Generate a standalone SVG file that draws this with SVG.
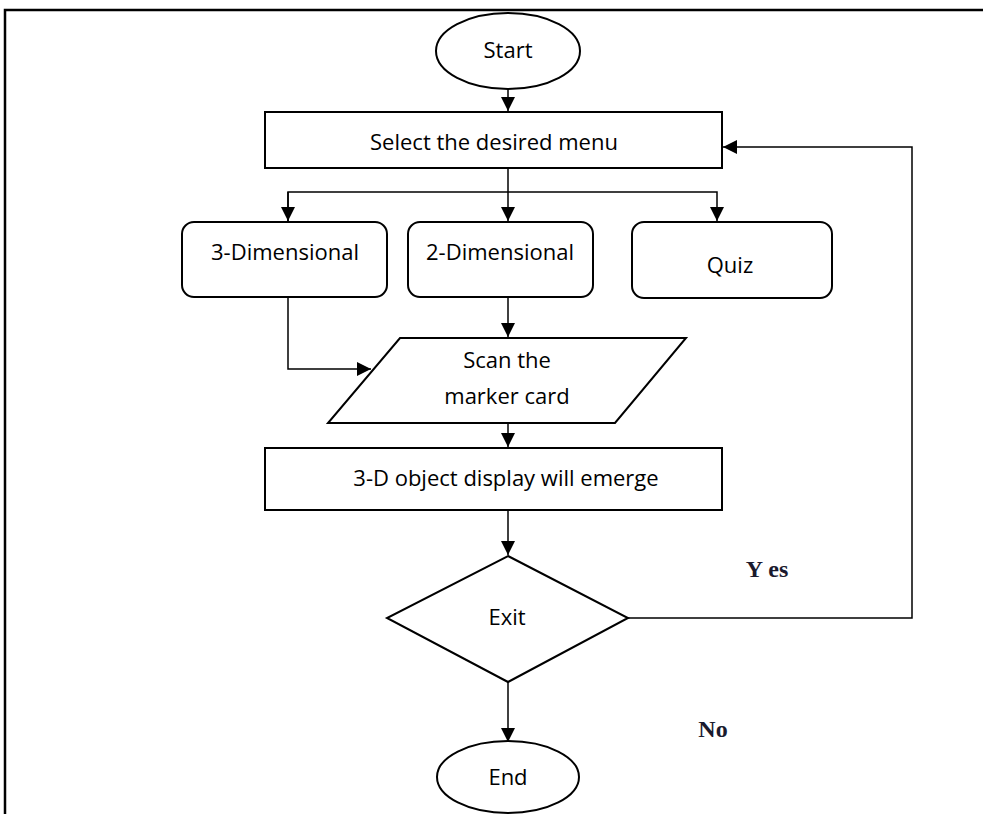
<svg xmlns="http://www.w3.org/2000/svg" width="983" height="814" viewBox="0 0 983 814">
<style>
.s{fill:#fff;stroke:#000;stroke-width:2}
.t{font-family:"Open Sans","Liberation Sans",sans-serif;font-size:22px;fill:#000;text-anchor:middle}
.l{font-family:"Liberation Serif",serif;font-size:24px;font-weight:bold;fill:#1a1a2e;text-anchor:middle}
.c{fill:none;stroke:#000;stroke-width:1.5}
</style>
<defs>
<marker id="b" viewBox="0 0 14 14" refX="14" refY="7" markerWidth="14" markerHeight="14" markerUnits="userSpaceOnUse" orient="auto">
<path d="M0,0 L14,7 L0,14 z" fill="#000"/>
</marker>
</defs>
<rect width="983" height="814" fill="#fff"/>
<path d="M5,814 V10 H983" fill="none" stroke="#000" stroke-width="2.5"/>
<g id="connectors">
<path class="c" d="M508,80 V111" marker-end="url(#b)"/>
<path class="c" d="M508,168 V221" marker-end="url(#b)"/>
<path class="c" d="M288,221 V192 H717 V221" marker-end="url(#b)"/>
<path class="c" d="M288,192 V221" marker-end="url(#b)"/>
<path class="c" d="M508,297 V337" marker-end="url(#b)"/>
<path class="c" d="M288,297 V369 H371" marker-end="url(#b)"/>
<path class="c" d="M508,414 V447" marker-end="url(#b)"/>
<path class="c" d="M508,510 V555" marker-end="url(#b)"/>
<path class="c" d="M628,618 H912 V147 H723" marker-end="url(#b)"/>
<path class="c" d="M508,682 V742" marker-end="url(#b)"/>
</g>
<g id="start">
<ellipse class="s" cx="508" cy="51" rx="72" ry="38"/>
<text class="t" x="508" y="58">Start</text>
</g>
<g id="select">
<rect class="s" x="265" y="112" width="457" height="56"/>
<text class="t" x="494" y="150">Select the desired menu</text>
</g>
<g id="dim3">
<rect class="s" x="182" y="222" width="205" height="75" rx="12"/>
<text class="t" x="285" y="260">3-Dimensional</text>
</g>
<g id="dim2">
<rect class="s" x="408" y="222" width="185" height="75" rx="12"/>
<text class="t" x="500" y="260">2-Dimensional</text>
</g>
<g id="quiz">
<rect class="s" x="632" y="222" width="200" height="76" rx="12"/>
<text class="t" x="730" y="273">Quiz</text>
</g>
<g id="scan">
<polygon class="s" points="400,338 686,338 615,423 328,423"/>
<text class="t" x="507" y="368">Scan the</text>
<text class="t" x="507" y="404">marker card</text>
</g>
<g id="display">
<rect class="s" x="265" y="448" width="457" height="62"/>
<text class="t" x="506" y="486">3-D object display will emerge</text>
</g>
<g id="exit">
<polygon class="s" points="508,556 628,618 508,682 387,618"/>
<text class="t" x="507" y="625">Exit</text>
</g>
<g id="end">
<ellipse class="s" cx="508" cy="777" rx="71" ry="36"/>
<text class="t" x="508" y="785">End</text>
</g>
<g id="labels">
<text class="l" x="767" y="577">Y es</text>
<text class="l" x="713" y="737">No</text>
</g>
</svg>
